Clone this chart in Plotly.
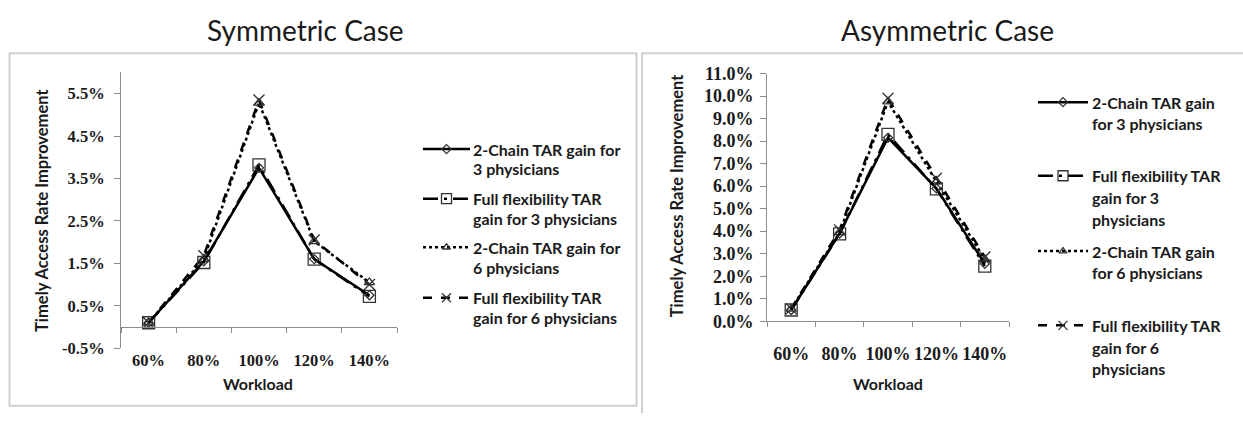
import plotly.graph_objects as go

# ---- data ----
workload = ["60%", "80%", "100%", "120%", "140%"]

sym_chain3 = [0.10, 1.55, 3.75, 1.60, 0.75]
sym_full3 = [0.10, 1.52, 3.82, 1.60, 0.72]
sym_chain6 = [0.10, 1.60, 5.28, 2.02, 1.05]
sym_full6 = [0.10, 1.68, 5.35, 2.05, 1.00]

asym_chain3 = [0.50, 3.90, 8.15, 5.90, 2.55]
asym_full3 = [0.50, 3.88, 8.30, 5.88, 2.45]
asym_chain6 = [0.55, 3.95, 9.75, 6.20, 2.75]
asym_full6 = [0.55, 4.05, 9.90, 6.35, 2.85]

sym_ticks = [-0.5, 0.5, 1.5, 2.5, 3.5, 4.5, 5.5]
asym_ticks = [0, 1, 2, 3, 4, 5, 6, 7, 8, 9, 10, 11]

series_names_sym = [
    ["2-Chain TAR gain for", "3 physicians"],
    ["Full flexibility TAR", "gain for 3 physicians"],
    ["2-Chain TAR gain for", "6 physicians"],
    ["Full flexibility TAR", "gain for 6 physicians"],
]
series_names_asym = [
    ["2-Chain TAR gain", "for 3 physicians"],
    ["Full flexibility TAR", "gain for 3", "physicians"],
    ["2-Chain TAR gain", "for 6 physicians"],
    ["Full flexibility TAR", "gain for 6", "physicians"],
]

W, H = 1243, 423
SANS = "Lato"
SERIF = "Liberation Serif"
INK = "#1a1a1a"
AXIS = "#8c8c8c"

styles = [
    dict(dash="solid", symbol="diamond-open", size=7),
    dict(dash="longdashdot", symbol="square-open", size=12),
    dict(dash="dot", symbol="triangle-up-open", size=9),
    dict(dash="dash", symbol="x-thin-open", size=11),
]


def px_x(p):
    return p / W


def px_y(p):
    return (H - p) / H


fig = go.Figure()

sym = [sym_chain3, sym_full3, sym_chain6, sym_full6]
asym = [asym_chain3, asym_full3, asym_chain6, asym_full6]

# draw order: full-flex series first so the 2-chain lines sit on top
order = [3, 1, 2, 0]
for i in order:
    st = styles[i]
    for vals, xa, ya in [(sym[i], "x", "y"), (asym[i], "x2", "y2")]:
        fig.add_trace(go.Scatter(
            x=workload, y=vals, xaxis=xa, yaxis=ya, mode="lines+markers",
            line=dict(color="#000000", width=2.5, dash=st["dash"]),
            marker=dict(symbol=st["symbol"], size=st["size"], color="#333333",
                        line=dict(color="#333333", width=1.3)),
            showlegend=False, hoverinfo="skip",
        ))

# ---- legend samples on a pixel-unit overlay axis ----
legend_blocks = [
    dict(x0=423, x1=470, tx=471, rows=[146, 198, 249, 302], gap=20.8,
         names=series_names_sym),
    dict(x0=1038, x1=1088, tx=1090, rows=[96.7, 174, 253, 331], gap=22.8,
         names=series_names_asym),
]
annotations = []
for blk in legend_blocks:
    for i, yrow in enumerate(blk["rows"]):
        st = styles[i]
        xm = (blk["x0"] + blk["x1"]) / 2
        fig.add_trace(go.Scatter(
            x=[blk["x0"], blk["x1"]], y=[yrow, yrow], xaxis="x3", yaxis="y3",
            mode="lines", line=dict(color="#000000", width=2.5, dash=st["dash"]),
            showlegend=False, hoverinfo="skip",
        ))
        fig.add_trace(go.Scatter(
            x=[xm], y=[yrow], xaxis="x3", yaxis="y3", mode="markers",
            marker=dict(symbol=st["symbol"], size=max(st["size"] - 2, 7),
                        color="#333333", line=dict(color="#333333", width=1.3)),
            showlegend=False, hoverinfo="skip",
        ))
        for k, line in enumerate(blk["names"][i]):
            annotations.append(dict(
                x=blk["tx"], y=yrow + k * blk["gap"], xref="x3", yref="y3",
                text=line, showarrow=False, xanchor="left", yanchor="middle",
                font=dict(family=SANS, size=16, color=INK, weight="bold"),
            ))

# ---- titles and axis titles ----
for txt, x, y in [("Symmetric Case", 305.5, 21), ("Asymmetric Case", 947.5, 21)]:
    annotations.append(dict(x=x, y=y, xref="x3", yref="y3", text=txt,
                            showarrow=False, xanchor="center", yanchor="middle",
                            font=dict(family=SANS, size=28, color=INK)))
for x, y in [(42, 211), (677, 195.5)]:
    annotations.append(dict(x=x, y=y, xref="x3", yref="y3",
                            text="Timely Access Rate Improvement", textangle=-90,
                            showarrow=False, xanchor="center", yanchor="middle",
                            font=dict(family=SANS, size=16.5, color=INK, weight="bold")))
for x in [258, 888]:
    annotations.append(dict(x=x, y=391.7, xref="x3", yref="y3", text="Workload",
                            showarrow=False, xanchor="center", yanchor="middle",
                            font=dict(family=SANS, size=16, color=INK, weight="bold")))

# ---- panel frames ----
shapes = [
    dict(type="rect", xref="x3", yref="y3", x0=9.5, x1=636.5, y0=45.5, y1=415.5,
         line=dict(color="#cfcfcf", width=2), layer="below"),
    dict(type="rect", xref="x3", yref="y3", x0=642, x1=1260, y0=45.5, y1=440,
         line=dict(color="#cfcfcf", width=2), layer="below"),
]

tick_font_l = dict(family=SERIF, size=16.5, color=INK, weight="bold")
tick_font_r = dict(family=SERIF, size=18, color=INK, weight="bold")

fig.update_layout(
    width=W, height=H, margin=dict(l=0, r=0, t=0, b=0),
    paper_bgcolor="white", plot_bgcolor="rgba(0,0,0,0)",
    showlegend=False, annotations=annotations, shapes=shapes,
    xaxis=dict(domain=[px_x(121), px_x(397)], type="category", range=[-0.5, 4.5],
               anchor="free", position=px_y(332.7), showline=True, linecolor=AXIS,
               linewidth=1, ticks="outside", ticklen=5, tickcolor=AXIS,
               tickson="boundaries", showgrid=False, zeroline=False, tickangle=0,
               tickfont=tick_font_l, ticklabelstandoff=18),
    yaxis=dict(domain=[px_y(355), px_y(65.5)], range=[-0.5, 6.0],
               tickvals=sym_ticks, ticktext=[f"{v:.1f}%" for v in sym_ticks],
               showline=True, linecolor=AXIS, linewidth=1, ticks="outside",
               ticklen=6, tickcolor=AXIS, showgrid=False, zeroline=False,
               anchor="x", tickfont=tick_font_l, ticklabelstandoff=6),
    xaxis2=dict(domain=[px_x(767), px_x(1009)], type="category", range=[-0.5, 4.5],
                anchor="y2", showline=True, linecolor=AXIS, linewidth=1,
                ticks="outside", ticklen=5, tickcolor=AXIS, tickson="boundaries",
                showgrid=False, zeroline=False, tickangle=0, tickfont=tick_font_r,
                ticklabelstandoff=16),
    yaxis2=dict(domain=[px_y(326.7), px_y(66.7)], range=[0, 11],
                tickvals=asym_ticks, ticktext=[f"{v:.1f}%" for v in asym_ticks],
                showline=True, linecolor=AXIS, linewidth=1, ticks="outside",
                ticklen=6, tickcolor=AXIS, showgrid=False, zeroline=False,
                anchor="x2", tickfont=tick_font_r, ticklabelstandoff=3),
    xaxis3=dict(domain=[0, 1], range=[0, W], visible=False, fixedrange=True),
    yaxis3=dict(domain=[0, 1], range=[H, 0], visible=False, fixedrange=True,
                anchor="x3"),
)

fig.write_html("out.html")
